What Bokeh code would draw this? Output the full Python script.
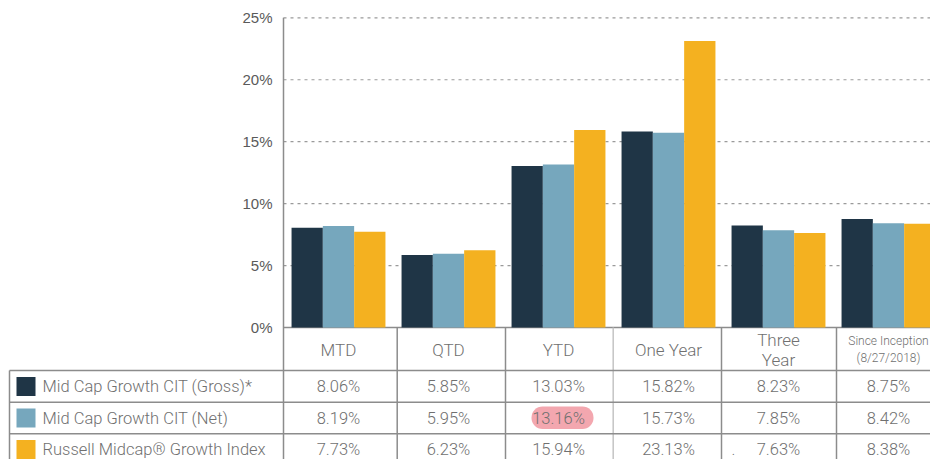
from bokeh.plotting import figure
from bokeh.models import Range1d, ColumnDataSource, BoxAnnotation
from bokeh.transform import dodge
from bokeh.core.properties import value
from bokeh.embed import file_html
from bokeh.resources import INLINE

# ---------------- data ----------------
categories = ["MTD", "QTD", "YTD", "One Year", "Three\nYear", "Since Inception\n(8/27/2018)"]
series_names = ["Mid Cap Growth CIT (Gross)*", "Mid Cap Growth CIT (Net)", "Russell Midcap® Growth Index"]
gross = [8.06, 5.85, 13.03, 15.82, 8.23, 8.75]
net = [8.19, 5.95, 13.16, 15.73, 7.85, 8.42]
index = [7.73, 6.23, 15.94, 23.13, 7.63, 8.38]
y_ticks = [0, 5, 10, 15, 20, 25]
y_tick_labels = ["0%", "5%", "10%", "15%", "20%", "25%"]

# ---------------- style / layout ----------------
W, H = 930, 459
COLORS = ["#1f3546", "#76a7bd", "#f4b120"]
PX_PER_CAT = 110.0
X0_PX = 283.0           # left edge of plot area
Y0_PX = 327.0           # 0% line
Y25_PX = 17.3           # 25% line
PX_PER_PCT = (Y0_PX - Y25_PX) / 25.0
GRID = "#9a9a9a"
LINE = "#8c8c8c"
TXT = "#707070"
FONT = "Roboto Light, Roboto"

p = figure(width=W, height=H, output_backend="svg", toolbar_location=None,
           x_range=Range1d(-X0_PX / PX_PER_CAT, (W - X0_PX) / PX_PER_CAT),
           y_range=Range1d(-(H - Y0_PX) / PX_PER_PCT, 25 + Y25_PX / PX_PER_PCT),
           min_border=0, outline_line_color=None)
p.axis.visible = False
p.grid.visible = False
p.extra_x_ranges = {"px": Range1d(0, W)}
p.extra_y_ranges = {"px": Range1d(H, 0)}

# ---------------- grid lines (data units) ----------------
gx0 = [0] * 5
gx1 = [(W - X0_PX) / PX_PER_CAT] * 5
p.segment(x0=gx0, x1=gx1, y0=y_ticks[1:], y1=y_ticks[1:], line_color=GRID,
          line_width=1.2, line_dash="3 4")
p.segment(x0=[0], x1=[(W - X0_PX) / PX_PER_CAT], y0=[0], y1=[0],
          line_color=LINE, line_width=1.5)

# y tick labels
p.text(x=[-11 / PX_PER_CAT] * len(y_ticks), y=y_ticks, text=y_tick_labels,
       text_align="right", text_baseline="middle", text_font_size="15px",
       text_font=value("Liberation Sans"), text_color="#5a5a5a")

# ---------------- bars ----------------
src = ColumnDataSource(dict(x=[i + 0.5 for i in range(len(categories))],
                            gross=gross, net=net, index=index))
bw = 31.3 / PX_PER_CAT
for off, col, c in [(-bw, "gross", COLORS[0]), (0, "net", COLORS[1]), (bw, "index", COLORS[2])]:
    p.vbar(x=dodge("x", off, range=p.x_range), top=col, bottom=0, width=bw,
           source=src, fill_color=c, line_color=None)

# ---------------- table (pixel units) ----------------
row_lines = [370.0, 401.7, 433.3]
row_centers = [386.0, 417.5, 449.0]
col_edges = [X0_PX, 396.7, 505.0, 612.7, 721.0, 836.0]
col_colors = [LINE, LINE, LINE, "#c4c4c4", LINE, LINE]

# y axis line (from 25% down through the table)
p.segment(x0=[X0_PX], x1=[X0_PX], y0=[Y25_PX], y1=[H], line_color=LINE,
          line_width=1.5, x_range_name="px", y_range_name="px")
# column separators
p.segment(x0=col_edges[1:], x1=col_edges[1:], y0=[Y0_PX] * 5, y1=[H] * 5,
          line_color=col_colors[1:], line_width=1.5, x_range_name="px", y_range_name="px")
# row lines
p.segment(x0=[9] * 3, x1=[W] * 3, y0=row_lines, y1=row_lines, line_color=LINE,
          line_width=1.5, x_range_name="px", y_range_name="px")
# left border
p.segment(x0=[9], x1=[9], y0=[row_lines[0]], y1=[H], line_color=LINE,
          line_width=1.5, x_range_name="px", y_range_name="px")

# highlight around net YTD value
p.add_layout(BoxAnnotation(left=531, right=593, top=406, bottom=428.5,
                           x_range_name="px", y_range_name="px",
                           fill_color="#f3a7af", fill_alpha=1.0, line_color=None,
                           border_radius=11, level="underlay"))

# category header labels
cat_x = [X0_PX + (i + 0.5) * PX_PER_CAT for i in range(len(categories))]
big = [i for i, c in enumerate(categories) if not c.startswith("Since")]
small = [i for i, c in enumerate(categories) if c.startswith("Since")]
p.text(x=[cat_x[i] for i in big], y=[349.0] * len(big), text=[categories[i] for i in big],
       text_align="center", text_baseline="middle", text_font_size="17px",
       text_line_height=1.0, text_font=value(FONT), text_color=TXT,
       x_range_name="px", y_range_name="px")
p.text(x=[cat_x[i] for i in small], y=[349.0] * len(small), text=[categories[i] for i in small],
       text_align="center", text_baseline="middle", text_font_size="12px",
       text_line_height=1.2, text_font=value(FONT), text_color=TXT,
       x_range_name="px", y_range_name="px")

# legend squares and series names
p.rect(x=[25.5] * 3, y=row_centers, width=19, height=19, fill_color=COLORS,
       line_color=None, x_range_name="px", y_range_name="px")
p.text(x=[42] * 3, y=row_centers, text=series_names, text_align="left",
       text_baseline="middle", text_font_size="16.5px", text_font=value(FONT),
       text_color=TXT, x_range_name="px", y_range_name="px")

# table values
for r, vals in enumerate([gross, net, index]):
    p.text(x=cat_x, y=[row_centers[r]] * len(vals), text=[f"{v:.2f}%" for v in vals],
           text_align="center", text_baseline="middle", text_font_size="16.5px",
           text_font=value(FONT), text_color=TXT, x_range_name="px", y_range_name="px")

# stray dot in the reference table
p.text(x=[733], y=[449], text=["."], text_align="center", text_baseline="middle",
       text_font_size="14px", text_font=value(FONT), text_color=TXT,
       x_range_name="px", y_range_name="px")

open("out.html", "w").write(file_html(p, INLINE))
